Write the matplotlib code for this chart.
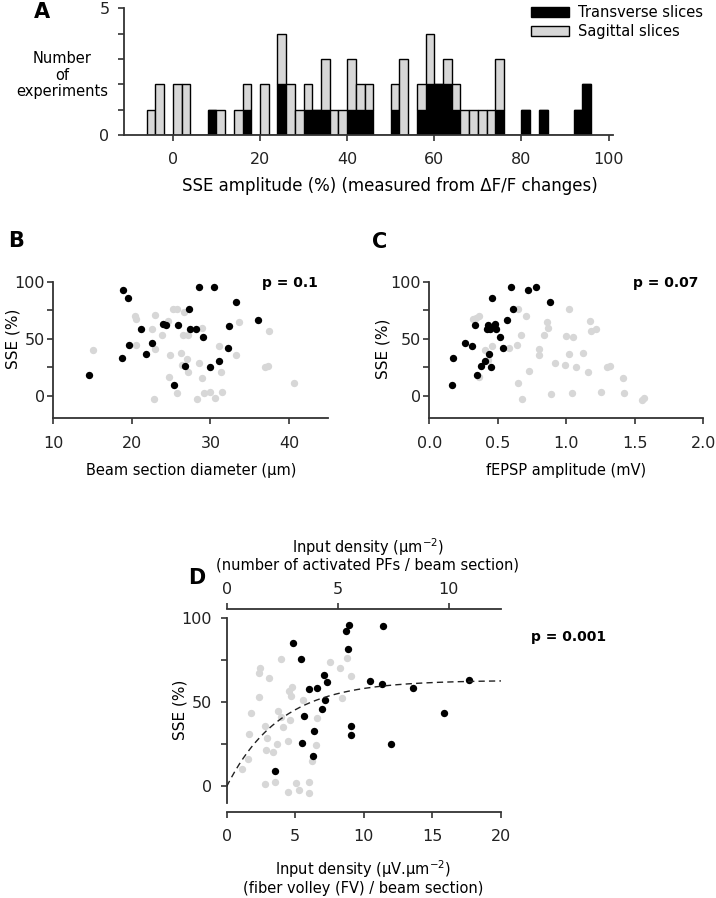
import numpy as np
import matplotlib
matplotlib.use('Agg')
import matplotlib.pyplot as plt

W, H = 716, 898

# ---- panel A: histogram of SSE amplitude (2 % bins) ----
bin_left = list(range(-6, 96, 2))
transverse = [0, 0, 0, 0, 0, 0, 0, 1, 0, 0, 0, 1, 0, 0, 0, 2, 0, 0, 1, 1, 1, 0, 0,
              1, 1, 1, 0, 0, 1, 0, 0, 1, 2, 2, 2, 1, 0, 0, 0, 0, 1, 0, 0, 1, 0, 1,
              0, 0, 0, 1, 2]
sagittal = [1, 2, 0, 2, 2, 0, 0, 0, 1, 0, 1, 1, 0, 2, 0, 2, 2, 1, 1, 0, 2, 1, 1,
            2, 1, 1, 0, 0, 1, 3, 0, 1, 2, 0, 1, 1, 1, 1, 1, 1, 2, 0, 0, 0, 0, 0,
            0, 0, 0, 0, 0]

# ---- panel B: SSE vs beam section diameter ----
b_black_x = [14.6, 18.9, 19.55, 18.7, 19.6, 21.1, 21.8, 22.6, 23.9, 24.3, 25.9, 27.3, 27.4,
             28.1, 28.6, 29.0, 30.4, 25.3, 26.7, 30.0, 31.1, 32.2, 32.3, 33.2, 36.1]
b_black_y = [17.8, 92.4, 85.7, 33.3, 44.2, 58.2, 36.3, 46.2, 63.2, 62.0, 62.3, 75.7, 58.5,
             58.2, 95.0, 51.5, 95.0, 9.4, 25.7, 24.9, 30.7, 42.1, 60.8, 81.9, 66.1]
b_gray_x = [15.1, 20.4, 20.5, 20.5, 23.0, 22.6, 23.0, 23.8, 22.8, 24.6, 24.9, 24.7, 25.2,
            25.8, 26.6, 26.5, 26.3, 26.4, 25.7, 27.2, 27.0, 27.2, 28.3, 28.6, 28.9, 28.9,
            29.2, 30.0, 30.6, 31.5, 31.1, 31.4, 33.3, 33.6, 36.9, 37.3, 37.5, 40.6]
b_gray_y = [40.1, 69.9, 67.3, 44.7, 70.5, 58.8, 40.6, 53.2, -3.2, 65.8, 35.4, 16.4, 76.0,
            76.0, 73.7, 52.9, 37.7, 27.2, 2.0, 52.9, 31.9, 21.1, -3.2, 28.4, 59.6, 15.2,
            2.3, 2.9, -1.8, 2.9, 43.9, 20.5, 36.0, 64.3, 24.9, 26.0, 57.0, 10.8]

# ---- panel C: SSE vs fEPSP amplitude ----
c_black_x = [0.163, 0.170, 0.26, 0.31, 0.33, 0.35, 0.375, 0.41, 0.435, 0.45, 0.426, 0.42,
             0.455, 0.48, 0.487, 0.516, 0.54, 0.57, 0.61, 0.596, 0.718, 0.78, 0.883, 0.47, 0.44]
c_black_y = [9.4, 33.3, 46.2, 43.9, 62.0, 17.8, 25.7, 30.7, 36.5, 25.1, 62.3, 58.5,
             85.7, 63.2, 58.2, 51.5, 42.1, 66.1, 75.7, 95.0, 92.4, 95.0, 81.9, 60.8, 58.2]
c_gray_x = [0.32, 0.365, 0.365, 0.41, 0.46, 0.58, 0.64, 0.65, 0.667, 0.65, 0.674, 0.706,
            0.73, 0.837, 0.856, 0.869, 0.80, 0.80, 0.888, 0.917, 0.99, 1.0, 1.02, 1.02,
            1.05, 1.04, 1.07, 1.124, 1.156, 1.17, 1.178, 1.217, 1.25, 1.294, 1.32, 1.416,
            1.42, 1.55, 1.567, 0.34, 0.43]
c_gray_y = [67.0, 70.0, 16.7, 40.0, 43.6, 41.5, 44.4, 75.7, 53.2, 10.8, -3.2, 70.0,
            21.6, 53.2, 64.3, 59.6, 41.0, 35.4, 1.2, 28.4, 26.9, 52.6, 76.0, 36.3,
            51.5, 2.0, 25.1, 37.7, 20.5, 65.5, 57.0, 58.5, 2.9, 25.1, 26.3, 15.2,
            2.3, -4.1, -2.3, 68.5, 31.0]

# ---- panel D: SSE vs input density ----
d_black_x = [8.89, 8.70, 11.39, 8.87, 5.42, 7.09, 7.33, 6.02, 6.56, 10.47, 11.34, 13.6,
             17.68, 7.16, 6.95, 5.63, 15.86, 9.08, 9.06, 6.36, 5.46, 11.98, 6.31, 3.52, 4.81]
d_black_y = [95.7, 92.1, 95.1, 81.8, 75.5, 66.0, 61.9, 58.1, 58.3, 62.3, 60.9, 58.3,
             63.0, 51.2, 46.1, 41.9, 43.7, 36.0, 30.5, 33.2, 25.7, 24.9, 17.8, 9.3, 85.4]
d_gray_x = [3.93, 2.43, 2.33, 3.06, 2.33, 1.75, 1.65, 1.58, 1.12, 2.82, 2.96, 2.84, 3.40,
            3.69, 3.76, 3.96, 4.13, 4.45, 4.61, 4.73, 4.56, 4.66, 5.53, 2.80, 3.52, 4.49,
            5.05, 5.29, 6.02, 6.02, 6.19, 6.51, 6.61, 7.53, 8.26, 8.75, 8.38, 9.04]
d_gray_y = [75.7, 70.2, 67.2, 64.3, 52.8, 43.5, 31.2, 16.4, 10.5, 36.0, 28.7, 21.4, 20.6,
            25.3, 44.9, 41.5, 35.2, 26.7, 39.6, 59.3, 56.7, 53.4, 51.4, 1.2, 2.6, -3.3,
            2.0, -2.3, 2.4, -3.9, 15.3, 24.7, 40.5, 74.1, 70.2, 76.1, 52.4, 65.6]
# exponential fit  SSE = A (1 - exp(-x / tau))
fit_A, fit_tau = 63.0, 3.9
top_scale = 0.618   # PFs per um^2 for one uV.um^-2

gray = '#d7d7d7'
axis_col = '#333333'


def box(l, t, r, b):
    return [l / W, 1 - b / H, (r - l) / W, (b - t) / H]


def ftext(x, y, s, **kw):
    kw.setdefault('ha', 'center')
    kw.setdefault('va', 'center')
    return fig.text(x / W, 1 - y / H, s, **kw)


def style(ax):
    for side in ['top', 'right']:
        ax.spines[side].set_visible(False)
    for side in ['left', 'bottom']:
        ax.spines[side].set_linewidth(1.3)
        ax.spines[side].set_color(axis_col)
    ax.tick_params(direction='out', length=4.5, width=1.2, color=axis_col,
                   labelsize=11.5, labelcolor='#222222')


fig = plt.figure(figsize=(W / 100, H / 100), dpi=100)

# A
axA = fig.add_axes(box(124, 8.3, 613, 135))
axA.bar(bin_left, transverse, width=2, align='edge', color='black', edgecolor='black',
        linewidth=1, label='Transverse slices')
axA.bar(bin_left, sagittal, width=2, align='edge', bottom=transverse, color=gray,
        edgecolor='black', linewidth=1, label='Sagittal slices')
axA.set_xlim(-11.2, 101)
axA.set_ylim(0, 5)
style(axA)
axA.set_yticks(range(6))
axA.set_yticklabels(['0', '', '', '', '', '5'])
axA.set_xticks(range(0, 101, 20))
axA.tick_params(axis='x', pad=8)
axA.tick_params(axis='y', pad=6)
axA.legend(loc='upper left', bbox_to_anchor=(531 / W, 1 - 5 / H), bbox_transform=fig.transFigure,
           frameon=False, fontsize=10.5, handlelength=2.6, handleheight=0.7,
           handletextpad=0.6, labelspacing=0.3, borderpad=0, borderaxespad=0)
ftext(62, 75, 'Number\nof\nexperiments', fontsize=10.5, linespacing=1.15)
ftext(390, 186, 'SSE amplitude (%) (measured from \u0394F/F changes)', fontsize=12)
ftext(42, 12.5, 'A', fontsize=15, fontweight='bold')

# B
axB = fig.add_axes(box(53.3, 281.7, 328.3, 418.5))
axB.scatter(b_gray_x, b_gray_y, s=28, color=gray, linewidths=0, clip_on=False, zorder=2)
axB.scatter(b_black_x, b_black_y, s=28, color='black', linewidths=0, clip_on=False, zorder=3)
axB.set_xlim(10, 45)
axB.set_ylim(-20, 100)
style(axB)
axB.set_yticks([0, 25, 50, 75, 100])
axB.set_yticklabels(['0', '', '50', '', '100'])
axB.set_xticks([10, 20, 30, 40])
axB.tick_params(axis='x', pad=8)
axB.tick_params(axis='y', pad=1.5)
ftext(13.3, 339, 'SSE (%)', fontsize=11, rotation=90)
ftext(191, 470, 'Beam section diameter (\u03bcm)', fontsize=10.5)
ftext(318, 283, 'p = 0.1', fontsize=10, fontweight='bold', ha='right')
ftext(16, 241, 'B', fontsize=15, fontweight='bold')

# C
axC = fig.add_axes(box(429.3, 281.7, 703.3, 418.5))
axC.scatter(c_gray_x, c_gray_y, s=28, color=gray, linewidths=0, clip_on=False, zorder=2)
axC.scatter(c_black_x, c_black_y, s=28, color='black', linewidths=0, clip_on=False, zorder=3)
axC.set_xlim(0, 2.0)
axC.set_ylim(-20, 100)
style(axC)
axC.set_yticks([0, 25, 50, 75, 100])
axC.set_yticklabels(['0', '', '50', '', '100'])
axC.set_xticks([0, 0.5, 1.0, 1.5, 2.0])
axC.set_xticklabels(['0.0', '0.5', '1.0', '1.5', '2.0'])
axC.tick_params(axis='x', pad=8)
axC.tick_params(axis='y', pad=1.5)
ftext(383, 349, 'SSE (%)', fontsize=11, rotation=90)
ftext(566, 470, 'fEPSP amplitude (mV)', fontsize=10.5)
ftext(698, 283, 'p = 0.07', fontsize=10, fontweight='bold', ha='right')
ftext(379.5, 241.5, 'C', fontsize=15, fontweight='bold')

# D
axD = fig.add_axes(box(226.7, 608.7, 501, 811.7))
axD.scatter(d_gray_x, d_gray_y, s=28, color=gray, linewidths=0, clip_on=False, zorder=2)
axD.scatter(d_black_x, d_black_y, s=28, color='black', linewidths=0, clip_on=False, zorder=3)
xf = np.linspace(0, 20, 200)
axD.plot(xf, fit_A * (1 - np.exp(-xf / fit_tau)), color='#222222', lw=1,
         dashes=(4.5, 3), zorder=4)
axD.set_xlim(0, 20)
axD.set_ylim(-15, 105.5)
style(axD)
axD.spines['left'].set_bounds(-10, 100)
axD.set_yticks([0, 25, 50, 75, 100])
axD.set_yticklabels(['0', '', '50', '', '100'])
axD.set_xticks([0, 5, 10, 15, 20])
axD.tick_params(axis='x', pad=8)
axD.tick_params(axis='y', pad=6)
sec = axD.secondary_xaxis('top', functions=(lambda x: x * top_scale, lambda x: x / top_scale))
sec.set_xticks([0, 5, 10])
sec.spines['top'].set_linewidth(1.3)
sec.spines['top'].set_color(axis_col)
sec.tick_params(direction='out', length=4.5, width=1.2, color=axis_col,
                labelsize=11.5, labelcolor='#222222', pad=4)
ftext(180.3, 710, 'SSE (%)', fontsize=11, rotation=90)
ftext(368, 546.7, 'Input density (\u03bcm$^{-2}$)', fontsize=10.5)
ftext(368, 565, '(number of activated PFs / beam section)', fontsize=10.5)
ftext(363, 869, 'Input density (\u03bcV.\u03bcm$^{-2}$)', fontsize=10.5)
ftext(363, 889, '(fiber volley (FV) / beam section)', fontsize=10.5)
ftext(531, 637, 'p = 0.001', fontsize=10, fontweight='bold', ha='left')
ftext(197, 578, 'D', fontsize=15, fontweight='bold')

fig.savefig('out.png', dpi=100)
